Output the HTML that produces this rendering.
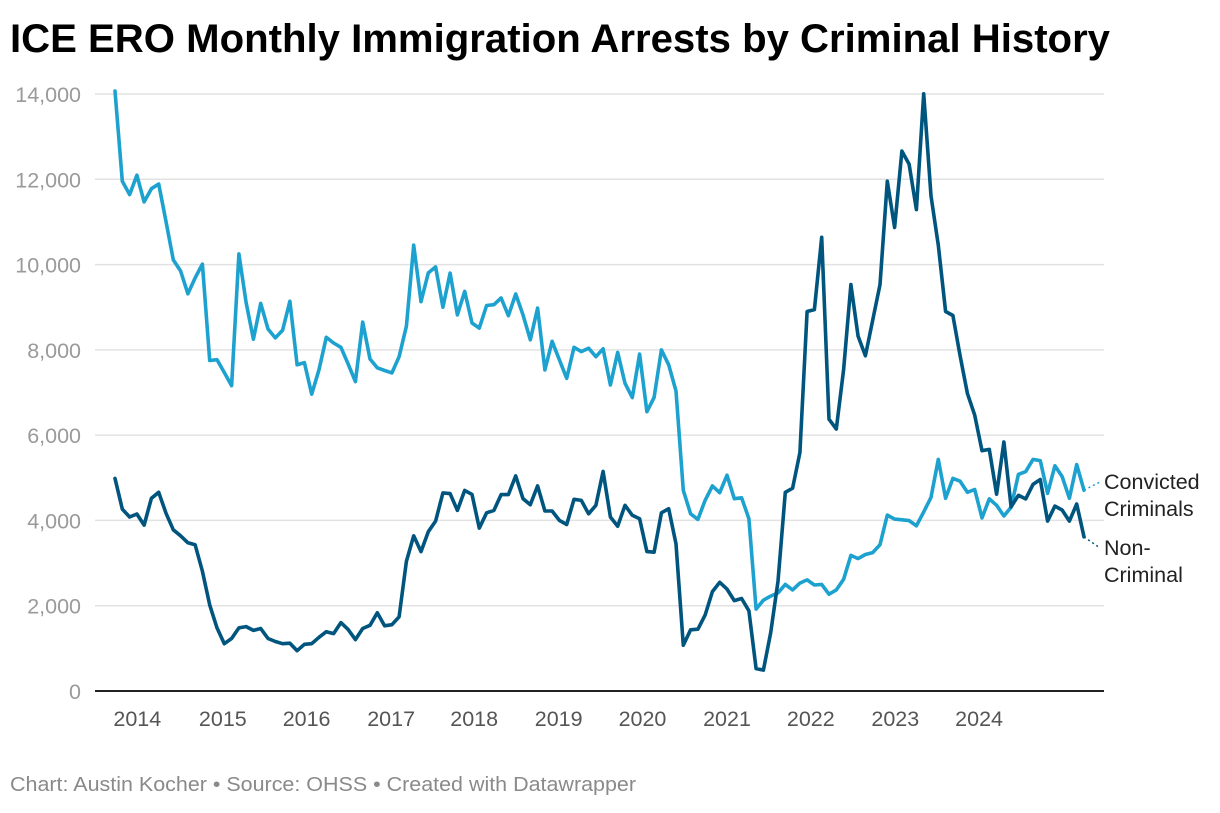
<!DOCTYPE html>
<html><head><meta charset="utf-8">
<style>
html,body{margin:0;padding:0;background:#fff;}
body{width:1220px;height:808px;overflow:hidden;font-family:"Liberation Sans",Arial,sans-serif;}
</style></head>
<body>
<svg id="chart" width="1220" height="808" xmlns="http://www.w3.org/2000/svg">
<text x="10" y="52" font-family="Liberation Sans, Arial, sans-serif" font-weight="bold" font-size="40" fill="#000" textLength="1100" lengthAdjust="spacingAndGlyphs">ICE ERO Monthly Immigration Arrests by Criminal History</text>
<g id="grid"></g>
<g id="yaxis"></g>
<g id="xaxis"></g>
<g id="series"></g>
<text x="10" y="791" font-size="20" fill="#8a8a8a" textLength="626" lengthAdjust="spacingAndGlyphs">Chart: Austin Kocher • Source: OHSS • Created with Datawrapper</text>
</svg>
<script>
const convicted = [14070,11955,11640,12095,11470,11780,11890,11010,10110,9850,9315,9685,10010,7750,7770,7470,7160,10250,9110,8250,9090,8490,8280,8460,9140,7650,7700,6960,7535,8295,8160,8060,7670,7255,8650,7785,7580,7515,7460,7840,8555,10455,9130,9805,9945,
9000,9800,8820,9370,8630,8510,9040,9060,9215,8800,9310,8820,8235,8980,7530,8200,7765,7330,8060,7960,8040,7840,8025,7175,7940,7215,6880,7900,6550,6885,8000,7650,7035,4705,4155,4025,4470,4810,4650,5060,4510,4530,4040,1920,
2130,2225,2300,2500,2370,2530,2605,2485,2500,2270,2370,2620,3180,3105,3200,3245,3430,4125,4030,4015,3995,3875,4200,4540,5430,4520,4985,4920,4660,4725,4060,4505,4355,4105,4310,5080,5145,5430,5400,4635,5280,5030,4520,5310,4710];
const nonCriminal = [4985,4265,4080,4150,3890,4520,4660,4170,3780,3640,3475,3430,2810,2020,1480,1110,1230,1480,1510,1420,1465,1230,1160,1110,1120,945,1095,1110,1260,1390,1345,1605,1445,1205,1465,1540,1835,1530,1555,1740,3040,3640,3270,3735,3985,
4645,4630,4235,4705,4610,3820,4180,4235,4605,4605,5045,4510,4370,4810,4220,4220,4000,3905,4495,4470,4155,4355,5150,4080,3865,4355,4120,4040,3270,3255,4180,4275,3450,1075,1435,1450,1780,2330,2550,2390,2120,2170,1880,525,
490,1370,2575,4660,4755,5590,8900,8945,10640,6375,6145,7535,9530,8320,7860,8695,9530,11955,10870,12660,12355,11290,14005,11610,10455,8900,8805,7860,6980,6470,5635,5665,4615,5840,4320,4590,4505,4845,4960,3985,4335,4245,3985,4385,3615];
const yTicks = [0,2000,4000,6000,8000,10000,12000,14000];
const yTickLabels = ["0","2,000","4,000","6,000","8,000","10,000","12,000","14,000"];
const xTickLabels = ["2014","2015","2016","2017","2018","2019","2020","2021","2022","2023","2024"];
const xTickIndex = [3.06,14.8,26.3,37.9,49.3,60.9,72.4,84.0,95.5,107.1,118.6];

const NS="http://www.w3.org/2000/svg";
const X0=115,X1=1084,Y0=691,Y1=94;
const N=convicted.length;
function xs(i){return X0+(X1-X0)*i/(N-1);}
function ys(v){return Y0-(Y0-Y1)*v/14000;}
function mk(tag,attrs,parent){const e=document.createElementNS(NS,tag);for(const k in attrs)e.setAttribute(k,attrs[k]);parent.appendChild(e);return e;}
const grid=document.getElementById('grid'),yax=document.getElementById('yaxis'),xax=document.getElementById('xaxis'),ser=document.getElementById('series');
yTicks.forEach((t,k)=>{
  const l=mk('line',{x1:95,x2:1104,y1:ys(t),y2:ys(t),stroke:t===0?'#222':'#e2e2e2','stroke-width':t===0?2:1.5},grid);
  
  
  const tx=mk('text',{x:81,y:ys(t)+8,'text-anchor':'end','font-size':21.5,fill:'#9a9a9a'},yax);
  tx.textContent=yTickLabels[k];
  
  
});
xTickLabels.forEach((lab,k)=>{
  const tx=mk('text',{x:xs(xTickIndex[k]),y:726,'text-anchor':'middle','font-size':21.5,fill:'#555'},xax);
  tx.textContent=lab;
  
  
});
function line(data,color,name){
  const d=data.map((v,i)=>(i?'L':'M')+xs(i).toFixed(1)+' '+ys(v).toFixed(1)).join(' ');
  const p=mk('path',{d:d,fill:'none',stroke:color,'stroke-width':3.6,'stroke-linejoin':'round','stroke-linecap':'round'},ser);
  
  
}
line(convicted,'#1da2d0','convicted-criminals-line');
line(nonCriminal,'#00557f','non-criminal-line');
function lab(data,color,ly,lines,name){
  const lx=xs(N-1),lv=ys(data[N-1]);
  const c=mk('line',{x1:lx,y1:lv,x2:1100,y2:ly,stroke:color,'stroke-width':1.5,'stroke-dasharray':'2 3'},ser);
  
  
  lines.forEach((s,j)=>{
    const t=mk('text',{x:1104,y:ly+7+j*27,'font-size':21.5,fill:'#222'},ser);
    t.textContent=s;
    
    
  });
}
lab(convicted,'#1da2d0',482,['Convicted','Criminals'],'convicted-criminals');
lab(nonCriminal,'#00557f',548,['Non-','Criminal'],'non-criminal');
</script>
</body></html>
